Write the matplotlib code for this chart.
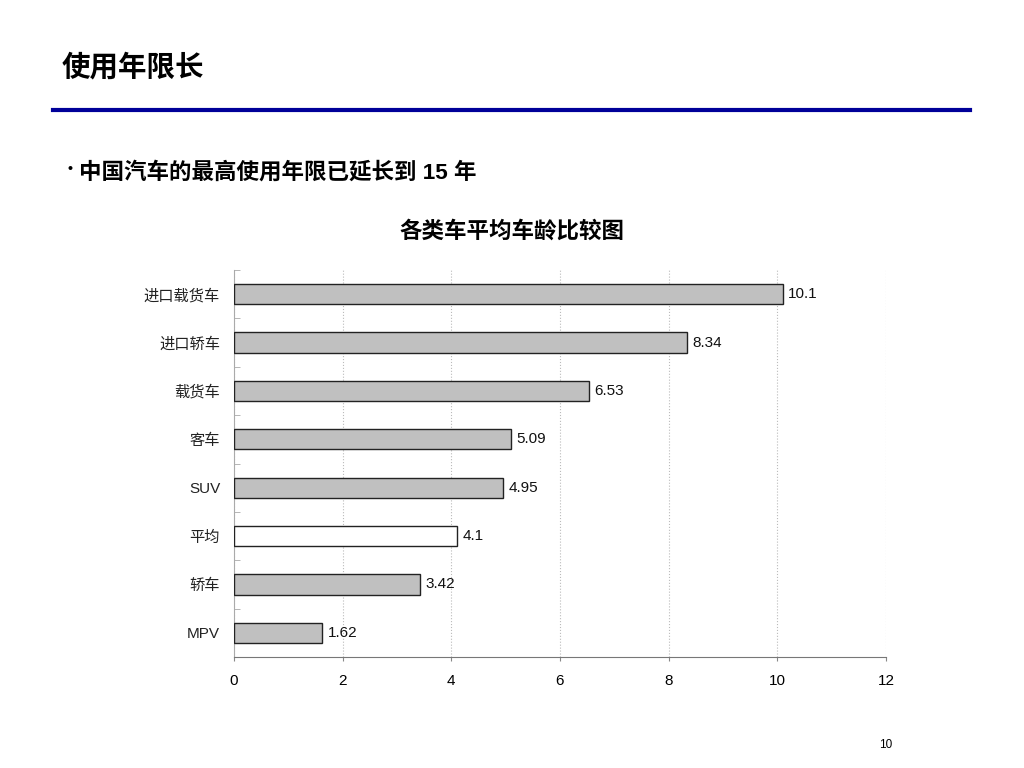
import matplotlib
matplotlib.use("Agg")
import matplotlib.pyplot as plt
from matplotlib.ticker import FixedLocator

plt.rcParams["font.family"] = ["Liberation Sans", "Noto Sans CJK SC", "DejaVu Sans"]

# data, top to bottom as shown
categories = ["进口载货车", "进口轿车", "载货车", "客车", "SUV", "平均", "轿车", "MPV"]
ages = [10.1, 8.34, 6.53, 5.09, 4.95, 4.1, 3.42, 1.62]
value_labels = ["10.1", "8.34", "6.53", "5.09", "4.95", "4.1", "3.42", "1.62"]
x_ticks = [0, 2, 4, 6, 8, 10, 12]

fig = plt.figure(figsize=(10.24, 7.68), dpi=100)

# slide header
fig.text(62 / 1024, 1 - 68 / 768, "使用年限长", fontsize=20.5, fontweight="bold",
         va="center", ha="left")
fig.add_artist(plt.Line2D([53 / 1024, 970 / 1024], [1 - 110 / 768, 1 - 110 / 768],
                          color="#000099", linewidth=3))
fig.text(67 / 1024, 1 - 169 / 768, "•", fontsize=10, fontweight="bold",
         va="center", ha="left")
fig.text(79 / 1024, 1 - 173 / 768, "中国汽车的最高使用年限已延长到 15 年", fontsize=16.2,
         fontweight="bold", va="center", ha="left")
fig.text(512 / 1024, 1 - 232 / 768, "各类车平均车龄比较图", fontsize=16.2,
         fontweight="bold", va="center", ha="center")
fig.text(886 / 1024, 1 - 745 / 768, "10", fontsize=8.5, va="center", ha="center")

ax = fig.add_axes([234 / 1024, 1 - 657 / 768, (886 - 234) / 1024, (657 - 270) / 768])

pos = list(range(len(categories)))
colors = ["white" if c == "平均" else "#C0C0C0" for c in categories]
ax.barh(pos, ages, height=0.42, color=colors, edgecolor="#222222", linewidth=1, zorder=3)

for p, v, lab in zip(pos, ages, value_labels):
    ax.text(v + 0.1, p, lab, va="center", ha="left", fontsize=11, color="#111111")

ax.set_xlim(0, 12)
ax.set_ylim(len(categories) - 0.5, -0.5)
ax.set_xticks(x_ticks)
ax.set_xticklabels([str(t) for t in x_ticks], fontsize=11)
ax.set_yticks(pos)
ax.set_yticklabels(categories, fontsize=11, color="#222222")
ax.yaxis.set_minor_locator(FixedLocator([p - 0.5 for p in pos]))
ax.tick_params(axis="y", which="major", length=0, pad=10)
ax.tick_params(axis="y", which="minor", length=4, direction="in", color="#aaaaaa")
ax.tick_params(axis="x", length=3, direction="out", color="#888888", pad=9)

ax.grid(axis="x", linestyle=":", color="#bbbbbb", linewidth=0.8, zorder=0)
for side in ["top", "right"]:
    ax.spines[side].set_visible(False)
ax.spines["left"].set_color("#aaaaaa")
ax.spines["bottom"].set_color("#777777")

fig.savefig("out.png", dpi=100)
